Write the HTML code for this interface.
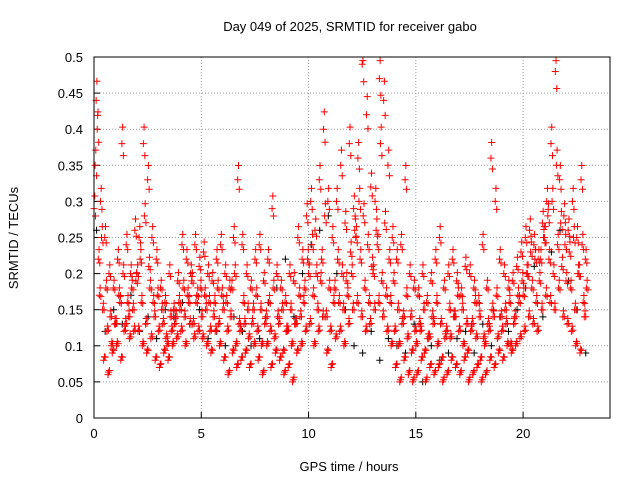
<!DOCTYPE html>
<html><head><meta charset="utf-8"><style>
html,body{margin:0;padding:0;background:#fff;}
svg{display:block;font-family:"Liberation Sans",sans-serif;}
</style></head><body>
<svg id="chart" width="640" height="480">
<text x="350" y="31" text-anchor="middle" font-size="13">Day 049 of 2025, SRMTID for receiver gabo</text>
<text x="349" y="471" text-anchor="middle" font-size="13">GPS time / hours</text>
<text x="18" y="238" text-anchor="middle" font-size="13" transform="rotate(-90 18 238)">SRMTID / TECUs</text>
<g id="grid"></g><g id="axes"></g><g id="marks"></g>
<rect x="94" y="57" width="516" height="361" fill="none" stroke="#000" stroke-width="1"/>
</svg>
<script>
const xTicks=[0,5,10,15,20];
const yTicks=[0,0.05,0.1,0.15,0.2,0.25,0.3,0.35,0.4,0.45,0.5];
const yTickLabels=["0","0.05","0.1","0.15","0.2","0.25","0.3","0.35","0.4","0.45","0.5"];
const step=0.2;
const trackA=[.29,.22,.15,.12,.10,.13,.16,.12,.14,.15,.20,.16,.13,.18,.14,.12,.13,.10,.12,.14,.15,.14,.16,.13,.17,.14,.15,.12,.16,.13,.15,.12,.18,.10,.12,.13,.11,.15,.12,.10,.14,.12,.11,.13,.09,.12,.10,.13,.14,.18,.20,.17,.15,.22,.14,.12,.18,.16,.15,.17,.20,.25,.22,.18,.16,.20,.24,.19,.17,.16,.12,.10,.14,.11,.09,.10,.12,.09,.11,.13,.10,.08,.12,.11,.14,.12,.10,.09,.13,.11,.08,.10,.12,.14,.11,.12,.13,.10,.14,.16,.17,.20,.18,.16,.22,.25,.22,.20,.24,.21,.19,.18,.15,.20,.16];
const trackB=[.35,.17,.08,.06,.09,.10,.08,.13,.11,.12,.12,.10,.09,.11,.08,.07,.09,.08,.10,.11,.12,.10,.13,.11,.12,.11,.10,.09,.12,.10,.08,.06,.09,.07,.08,.09,.07,.10,.08,.06,.10,.07,.09,.08,.06,.07,.05,.09,.10,.12,.13,.10,.12,.14,.09,.07,.11,.12,.10,.13,.15,.16,.14,.12,.13,.15,.16,.14,.12,.10,.07,.05,.08,.06,.05,.06,.08,.05,.07,.06,.07,.05,.06,.08,.07,.06,.08,.05,.06,.07,.05,.06,.08,.07,.09,.08,.10,.09,.10,.11,.12,.14,.13,.12,.15,.17,.16,.15,.18,.14,.13,.12,.10,.09,.14];
const trackC=[.44,.30,.25,.20,.18,.22,.38,.24,.20,.26,.25,.38,.33,.25,.22,.18,.16,.20,.15,.19,.24,.22,.20,.24,.21,.23,.20,.19,.22,.24,.20,.18,.25,.33,.24,.20,.18,.22,.24,.19,.22,.29,.20,.18,.16,.20,.19,.25,.22,.28,.30,.26,.33,.40,.30,.25,.30,.35,.27,.38,.29,.36,.49,.42,.32,.30,.47,.44,.35,.25,.22,.24,.33,.20,.18,.17,.20,.16,.19,.22,.25,.18,.20,.22,.19,.17,.21,.20,.18,.16,.24,.18,.36,.30,.22,.20,.18,.19,.21,.23,.25,.26,.24,.22,.27,.30,.38,.48,.33,.28,.26,.30,.25,.33,.22];
const trackD=[.40,.25,.18,.14,.13,.17,.20,.16,.18,.19,.22,.28,.21,.16,.17,.15,.11,.14,.13,.16,.18,.17,.19,.16,.18,.17,.16,.14,.18,.17,.16,.14,.20,.13,.16,.15,.13,.17,.15,.13,.16,.18,.14,.15,.12,.15,.13,.17,.16,.22,.24,.20,.19,.28,.18,.16,.22,.20,.19,.23,.26,.30,.28,.24,.21,.26,.38,.27,.22,.19,.15,.13,.17,.14,.12,.13,.15,.11,.14,.16,.13,.11,.15,.14,.17,.15,.13,.12,.16,.14,.11,.13,.15,.17,.14,.15,.16,.13,.17,.19,.20,.23,.22,.19,.25,.28,.30,.35,.27,.24,.23,.25,.20,.24,.18];
const blackVals=[.26,.12,.15,.13,.17,.12,.14,.11,.15,.14,.16,.13,.15,.11,.12,.10,.14,.12,.10,.11,.16,.18,.22,.14,.20,.24,.26,.28,.20,.15,.10,.09,.12,.08,.11,.10,.09,.13,.05,.10,.08,.09,.11,.12,.09,.13,.10,.14,.12,.15,.18,.21,.14,.23,.26,.19,.15,.09];
const blackStep=0.4;
const x0=94,x1=610,yb=418,yt=57,xMax=24.05,yMax=0.5;
const sx=v=>x0+v/xMax*(x1-x0), sy=v=>yb-v/yMax*(yb-yt);
const NS="http://www.w3.org/2000/svg";
const grid=document.getElementById('grid'),axes=document.getElementById('axes'),marks=document.getElementById('marks');
function mk(tag,attrs,parent){const e=document.createElementNS(NS,tag);for(const k in attrs)e.setAttribute(k,attrs[k]);parent.appendChild(e);return e;}
xTicks.forEach(v=>{const x=sx(v);
 if(v>0){const g=mk('line',{x1:x,x2:x,y1:yb,y2:yt,stroke:'#a0a0a0','stroke-dasharray':'1,2'},grid);
 
 }
 const t=mk('line',{x1:x,x2:x,y1:yb,y2:yb-6,stroke:'#000'},axes);
 
 
 const l=mk('text',{x:x,y:yb+20,'text-anchor':'middle','font-size':13},axes);l.textContent=v;
 
 });
yTicks.forEach((v,i)=>{const y=sy(v);
 if(v>0&&v<0.5){const g=mk('line',{x1:x0,x2:x1,y1:y,y2:y,stroke:'#a0a0a0','stroke-dasharray':'1,2'},grid);
 
 }
 const t=mk('line',{x1:x0,x2:x0+6,y1:y,y2:y,stroke:'#000'},axes);
 
 
 const l=mk('text',{x:83,y:y+5,'text-anchor':'end','font-size':13},axes);l.textContent=yTickLabels[i];
 
 });
function plus(t,v,color,name){const x=sx(t),y=sy(v);
 const p=mk('path',{d:`M${x-3.5},${y}h7M${x},${y-3.5}v7`,stroke:color,'stroke-width':1,fill:'none'},marks);
 
 }
blackVals.forEach((v,i)=>plus(i*blackStep+0.12,v,'#000','black-point'));
[[trackA,0],[trackB,0.05],[trackC,0.1],[trackD,0.15]].forEach(([arr,off])=>{
 arr.forEach((v,i)=>{plus(i*step+off,v,'#ff0000','red-point');
  plus(i*step+off+0.07,v*0.93+0.01,'#ff0000','red-point');
  plus(i*step+off+0.035,Math.min(v*1.06,0.495),'#ff0000','red-point');});
});
</script>
</body></html>
